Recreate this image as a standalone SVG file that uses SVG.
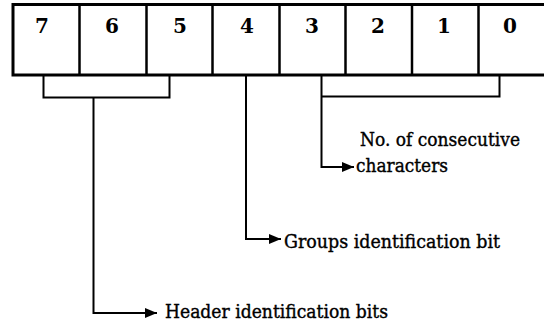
<svg xmlns="http://www.w3.org/2000/svg" width="544" height="324" viewBox="0 0 544 324">
  <defs>
    <marker id="arrow" markerWidth="12" markerHeight="10" refX="12" refY="5" orient="auto" markerUnits="userSpaceOnUse">
      <path d="M0,0 L12,5 L0,10 Z" fill="#000"/>
    </marker>
  </defs>
  <style>
    .cell { fill: #fff; stroke: #000; stroke-width: 3; }
    .div { stroke: #000; stroke-width: 2.5; }
    .digit { font-family: "DejaVu Serif", "Liberation Serif", serif; font-size: 20px; font-weight: bold; text-anchor: middle; fill: #000; }
    .wire { fill: none; stroke: #000; stroke-width: 2; }
    .label { font-family: "DejaVu Serif", "Liberation Serif", serif; font-size: 19px; fill: #000; stroke: #000; stroke-width: 0.4; }
  </style>
  <rect width="544" height="324" fill="#fff"/>

  <!-- register of eight bits, 7 on the left down to 0 -->
  <g id="register">
    <rect class="cell" x="13" y="4.5" width="540" height="70.5"/>
    <line class="div" x1="79.5" y1="4.5" x2="79.5" y2="75"/>
    <line class="div" x1="146.5" y1="4.5" x2="146.5" y2="75"/>
    <line class="div" x1="212.5" y1="4.5" x2="212.5" y2="75"/>
    <line class="div" x1="279.5" y1="4.5" x2="279.5" y2="75"/>
    <line class="div" x1="345.5" y1="4.5" x2="345.5" y2="75"/>
    <line class="div" x1="412" y1="4.5" x2="412" y2="75"/>
    <line class="div" x1="478.5" y1="4.5" x2="478.5" y2="75"/>
    <text class="digit" x="42" y="33">7</text>
    <text class="digit" x="112" y="33">6</text>
    <text class="digit" x="180" y="33">5</text>
    <text class="digit" x="247" y="33">4</text>
    <text class="digit" x="312" y="33">3</text>
    <text class="digit" x="378" y="33">2</text>
    <text class="digit" x="444" y="33">1</text>
    <text class="digit" x="510" y="33">0</text>
  </g>

  <g id="connectors">
    <!-- bits 7-5 -->
    <path class="wire" d="M43.5,75 V97.5 H169.5 V75"/>
    <path class="wire" d="M93.5,97.5 V313 H157" marker-end="url(#arrow)"/>
    <!-- bit 4 -->
    <path class="wire" d="M246,75 V239 H281" marker-end="url(#arrow)"/>
    <!-- bits 3-0 -->
    <path class="wire" d="M499.5,75 V96.5 H321.5"/>
    <path class="wire" d="M321.5,75 V167 H354" marker-end="url(#arrow)"/>
  </g>

  <g id="label-count">
    <text class="label" x="360" y="146" textLength="160" lengthAdjust="spacingAndGlyphs">No. of consecutive</text>
    <text class="label" x="356" y="172" textLength="92" lengthAdjust="spacingAndGlyphs">characters</text>
  </g>
  <g id="label-group">
    <text class="label" x="284" y="248" textLength="216" lengthAdjust="spacingAndGlyphs">Groups identification bit</text>
  </g>
  <g id="label-header">
    <text class="label" x="165" y="318" textLength="223" lengthAdjust="spacingAndGlyphs">Header identification bits</text>
  </g>
</svg>
